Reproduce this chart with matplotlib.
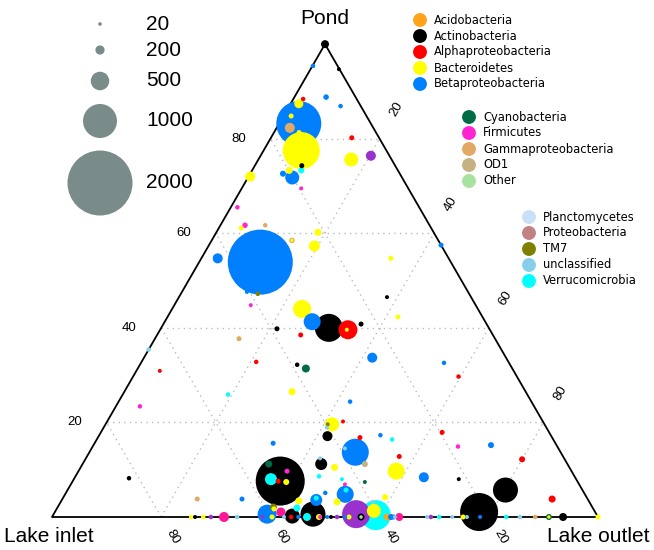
import matplotlib.pyplot as plt
import numpy as np

# ternary data: (pond %, lake outlet %, reads); lake inlet = 100 - pond - outlet
acido = [(0, 61.4, 129)]
actino = [(100, 0, 161), (94.7, 5.2, 32), (74.3, 8.6, 65), (46.5, 38.1, 32), (40, 30.7, 806),
          (40.8, 36.2, 65), (39.8, 21.3, 65), (32.2, 28.8, 48), (17.1, 41.9, 226), (8, 70.5, 32),
          (5.7, 80.2, 710), (1.05, 77.7, 1129), (11.2, 43.7, 290), (8.2, 10, 48), (7.6, 38, 1484),
          (0.2, 43.9, 387), (0.6, 47.5, 710), (0, 26.2, 32), (0, 51.1, 32), (0, 56.6, 129),
          (0, 93.6, 161)]
alpha = [(88.4, 1.8, 48), (80.2, 14.8, 65), (39.6, 34.4, 516), (38.5, 26.3, 65), (32.8, 21, 48),
         (30.9, 4.3, 32), (20.2, 43.2, 32), (29.7, 59.6, 48), (16.8, 48, 65), (17.9, 62.5, 65),
         (12.8, 57.2, 65), (12.2, 80, 97), (3.8, 89.7, 129), (7.6, 37.6, 65), (0, 43.8, 48)]
bactero = [(87.4, 1.5, 194), (84.8, 1.4, 65), (81.3, 4.6, 65), (77.5, 6.9, 1097), (75.6, 17, 355),
           (73.3, 6.8, 129), (72, 0.3, 226), (61.1, 4.1, 65), (60.2, 18.6, 129), (58.5, 14.7, 10),
           (57.3, 19.4, 258), (54.7, 34.7, 65), (42.3, 42.2, 65), (44, 23.8, 484), (39.6, 34.2, 32),
           (26.5, 30.7, 129), (19.6, 41.5, 355), (9.7, 58.2, 452), (10.5, 46.5, 129), (3.2, 50.6, 129),
           (4.2, 58.9, 97), (1.3, 58.3, 355), (0, 54.4, 65), (0, 75.3, 65), (0, 100, 65),
           (7.4, 39.2, 97), (3.4, 43.5, 129), (1.7, 39.8, 65), (0, 40.3, 65), (0, 48.9, 97),
           (0, 25.5, 48), (0, 27.7, 48), (0, 91, 10)]
beta = [(95.4, 0.1, 48), (88.8, 5.8, 81), (86.9, 9.4, 48), (83.2, 3.6, 1355), (72.6, 6, 97),
        (71.8, 8.1, 355), (57.5, 42.5, 65), (53.9, 11.2, 2000), (54.7, 3, 226), (47.6, 11.9, 32),
        (41.3, 27, 452), (33.7, 41.8, 226), (24.4, 42.4, 48), (15.6, 32.7, 65), (32.6, 55.5, 48),
        (17.3, 51.5, 48), (15.2, 72.8, 97), (13.7, 48.7, 774), (8.4, 63.9, 226), (4.8, 51.3, 452),
        (5.1, 47.5, 48), (3.6, 46.6, 290), (3.8, 32.9, 65), (0.6, 39.1, 516), (0, 45.1, 32),
        (0, 50.4, 32), (0, 53.7, 32), (0, 62.1, 97), (0, 62.6, 65), (0, 78.4, 32)]
cyano = [(31.4, 30.8, 161), (11.2, 34.1, 129), (7.4, 53.6, 32), (0, 91, 97)]
firmi = [(69.5, 10.9, 32), (65.5, 1.2, 48), (61.7, 4.5, 81), (44.8, 14, 32), (23.4, 4.4, 48),
         (14.9, 66.9, 48), (9.7, 38.2, 65), (6.9, 50.2, 32), (0, 49.1, 32)]
gamma = [(82.3, 2.4, 226), (61.7, 8.2, 48), (58.5, 14.7, 81), (37.7, 15.4, 65), (3.8, 24.7, 65),
         (0, 88.5, 48)]
od1 = [(11.2, 51.7, 97)]
other = [(0, 56.6, 16)]
plancto = []
proteo = []
tm7 = [(47.2, 14.1, 48), (19.6, 40.7, 32), (2.1, 39.5, 129)]
unclass = [(35.4, 0, 48), (18.9, 40.9, 32), (14.5, 46.4, 32), (12.4, 42.9, 32), (3.2, 57.2, 32),
           (0, 33.9, 48), (0, 42.5, 32), (0, 62.8, 32), (0, 68.7, 32), (0, 73.3, 32), (0, 76, 32),
           (0, 85.7, 48)]
verruco = [(73.3, 9, 97), (25.9, 19.3, 48), (16.4, 54.1, 48), (8, 36.1, 290), (1.9, 43.9, 129),
           (4, 46.4, 65), (8.6, 44.6, 48), (8, 49.1, 32), (5.7, 51, 65), (0.4, 59.1, 871),
           (0, 46.7, 161), (0, 70.9, 48), (0, 83.2, 48)]
# groups not in the legend
purple = [(76.4, 20.2, 226), (0.6, 55.4, 806), (0, 52.2, 48), (0, 29.1, 48), (0, 38.5, 32),
          (0, 69.4, 48)]
deeppink = [(0, 31.5, 226), (1.05, 41.4, 194), (0, 63.6, 161)]

legend1 = ['Acidobacteria', 'Actinobacteria', 'Alphaproteobacteria', 'Bacteroidetes', 'Betaproteobacteria']
legend2 = ['Cyanobacteria', 'Firmicutes', 'Gammaproteobacteria', 'OD1', 'Other']
legend3 = ['Planctomycetes', 'Proteobacteria', 'TM7', 'unclassified', 'Verrucomicrobia']
size_levels = [20, 200, 500, 1000, 2000]
ticks = [20, 40, 60, 80]

colors = {
    'Acidobacteria': '#FFA31A', 'Actinobacteria': '#000000', 'Alphaproteobacteria': '#FF0000',
    'Bacteroidetes': '#FFFF00', 'Betaproteobacteria': '#0080FF', 'Cyanobacteria': '#006B45',
    'Firmicutes': '#FF26D2', 'Gammaproteobacteria': '#E2A865', 'OD1': '#C4B283',
    'Other': '#A8E2A0', 'Planctomycetes': '#C8E0F8', 'Proteobacteria': '#C08282',
    'TM7': '#808000', 'unclassified': '#87CEEB', 'Verrucomicrobia': '#00FFFF',
    'purple': '#9932CC', 'deeppink': '#FF1493',
}
groups = {
    'Acidobacteria': acido, 'Actinobacteria': actino, 'Alphaproteobacteria': alpha,
    'Bacteroidetes': bactero, 'Betaproteobacteria': beta, 'Cyanobacteria': cyano,
    'Firmicutes': firmi, 'Gammaproteobacteria': gamma, 'OD1': od1, 'Other': other,
    'Planctomycetes': plancto, 'Proteobacteria': proteo, 'TM7': tm7,
    'unclassified': unclass, 'Verrucomicrobia': verruco, 'purple': purple, 'deeppink': deeppink,
}

H = np.sqrt(3) / 2
S = 546.0  # triangle side in px


def tern(pond, outlet):
    pond = np.asarray(pond, float) / 100
    outlet = np.asarray(outlet, float) / 100
    return outlet + pond / 2, pond * H


def px(x, y):
    return (x - 52) / S, (517 - y) / S


def msize(n):
    d = (3 + 0.031 * np.asarray(n, float)) * 0.72
    return d ** 2


fig = plt.figure(figsize=(6.54, 5.5), dpi=100)
ax = fig.add_axes([0, 0, 1, 1])
ax.set_xlim(-52 / S, 602 / S)
ax.set_ylim(-33 / S, 517 / S)
ax.axis('off')

# grid
for v in ticks:
    for a, b in [((v, 0), (v, 100 - v)), ((0, v), (100 - v, v)), ((0, 100 - v), (100 - v, 0))]:
        x, y = tern([a[0], b[0]], [a[1], b[1]])
        ax.plot(x, y, color='#bbbbbb', lw=1, ls=(0, (1, 3)), zorder=1)

# border
x, y = tern([100, 0, 0, 100], [0, 0, 100, 0])
ax.plot(x, y, color='black', lw=1.3, zorder=2)

# tick labels
off = 1 / S
for v in ticks:
    x, y = tern(v, 0)
    ax.text(x - 32 * off, y, str(v), ha='center', va='center', fontsize=9.5, family='Liberation Sans')
    x, y = tern(100 - v, v)
    ax.text(x + 0.5 * 34 * off, y + H * 34 * off, str(v), ha='center', va='center', rotation=60,
            fontsize=9.5, family='Liberation Sans')
    x, y = tern(0, 100 - v)
    ax.text(x + 0.5 * 23 * off, y - H * 23 * off, str(v), ha='center', va='center', rotation=-60,
            fontsize=9.5, family='Liberation Sans')

ax.text(*px(325, 18), 'Pond', ha='center', va='center', fontsize=15, family='Liberation Sans')
ax.text(*px(4, 537), 'Lake inlet', ha='left', va='center', fontsize=15, family='Liberation Sans')
ax.text(*px(650, 537), 'Lake outlet', ha='right', va='center', fontsize=15, family='Liberation Sans')

# points, biggest first
pts = []
for name, rows in groups.items():
    for p, o, n in rows:
        pts.append((p, o, n, colors[name]))
pts.sort(key=lambda r: -r[2])
P = [r[0] for r in pts]
O = [r[1] for r in pts]
N = [r[2] for r in pts]
C = [r[3] for r in pts]
x, y = tern(P, O)
ax.scatter(x, y, s=msize(N), c=C, edgecolors='none', zorder=3, clip_on=False)

# size legend
size_y = [24, 50, 81, 121, 183]
for n, yy in zip(size_levels, size_y):
    ax.scatter(*px(100, yy), s=msize(n), color='#7A8C8A', edgecolors='none', zorder=3)
    ax.text(*px(146, yy), str(n), ha='left', va='center', fontsize=15, family='Liberation Sans')

# colour legends
for names, x0, y0 in [(legend1, 420, 20), (legend2, 469, 117), (legend3, 529, 217)]:
    for i, name in enumerate(names):
        yy = y0 + i * 16
        ax.scatter(*px(x0, yy), s=100, color=colors[name], edgecolors='none', zorder=3)
        ax.text(*px(x0 + 14, yy), name, ha='left', va='center', fontsize=8.3)

fig.savefig('out.png', dpi=100)
